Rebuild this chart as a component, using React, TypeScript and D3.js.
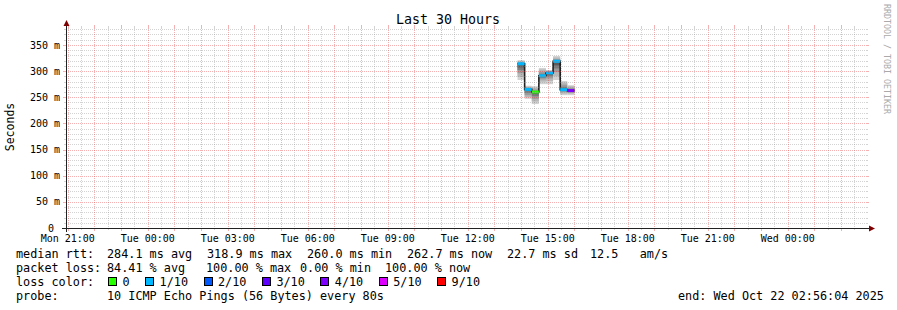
import React from "react";
import * as d3 from "d3";

// ---- data ----
const startTime = "2025-10-20T20:56:04Z";
const endTime = "2025-10-22T02:56:04Z";
const stepSeconds = 960;
const colStarts = [
  "2025-10-21T13:52:00Z", "2025-10-21T14:08:00Z", "2025-10-21T14:24:00Z", "2025-10-21T14:40:00Z",
  "2025-10-21T14:56:00Z", "2025-10-21T15:12:00Z", "2025-10-21T15:28:00Z", "2025-10-21T15:44:00Z",
];
const medians = [314, 265, 260, 291, 296.5, 318.9, 264.5, 262.7];
const losses = [1, 1, 0, 1, 1, 1, 1, 4];
const pings = [
  [283, 289, 296, 302, 307, 311, 315, 317, 319, 321],
  [247, 250, 254, 258, 262, 264, 266, 268, 270, 272],
  [237, 242, 247, 252, 256, 259, 262, 265, 268, 271],
  [275, 280, 284, 287, 289, 292, 295, 299, 303, 306],
  [275, 281, 286, 290, 293, 296, 298, 300, 301, 302],
  [283, 290, 298, 305, 311, 316, 320, 323, 326, 329],
  [254, 257, 260, 262, 263, 266, 270, 274, 278, 281],
  [254, 257, 259, 261, 262, 264, 266, 268, 271, 273],
];
const yMax = 382.4;
const yMajorTicks = [0, 50, 100, 150, 200, 250, 300, 350];
const yTickLabels = ["0", "50 m", "100 m", "150 m", "200 m", "250 m", "300 m", "350 m"];
const xTickLabels = ["Mon 21:00", "Tue 00:00", "Tue 03:00", "Tue 06:00", "Tue 09:00", "Tue 12:00", "Tue 15:00", "Tue 18:00", "Tue 21:00", "Wed 00:00"];
const lossLabels = ["0", "1/10", "2/10", "3/10", "4/10", "5/10", "9/10"];
const lossLevels = [0, 1, 2, 3, 4, 5, 9];
const lossColors = ["#26ff00", "#00b8ff", "#0059ff", "#5e00ff", "#7e00ff", "#dd00ff", "#ff0000"];
const smokeShades = ["#d2d2d2", "#b8b8b8", "#9c9c9c", "#7c7c7c", "#5c5c5c"];
const legendRtt = ["median rtt:", "284.1 ms avg", "318.9 ms max", "260.0 ms min", "262.7 ms now", "22.7 ms sd", "12.5   am/s"];
const legendLoss = ["packet loss:", "84.41 % avg", "100.00 % max", "0.00 % min", "100.00 % now"];
const legendLossTitle = "loss color:";
const legendProbe = ["probe:", "10 ICMP Echo Pings (56 Bytes) every 80s"];
const endText = "end: Wed Oct 22 02:56:04 2025";
const titleText = "Last 30 Hours";
const yAxisTitle = "Seconds";
const watermark = "RRDTOOL / TOBI OETIKER";

// ---- layout ----
const W = 897, H = 310;
const L = 66, R = 866, T = 28, B = 228;
const MONO = "'DejaVu Sans Mono', monospace";
const GRID = "rgba(140,140,140,0.38)";
const MGRID = "rgba(230,60,60,0.4)";
const AXIS = "#222";
const ARROW = "#7f0000";
const CW = 7.1;
const rttX = [16, 107, 207, 307, 407, 507, 590];
const lossX = [16, 107, 206, 300, 385];
const probeX = [16, 107];

function colorFor(loss: number) {
  let idx = 0;
  for (let i = 0; i < lossLevels.length; i++) if (loss >= lossLevels[i]) idx = i;
  return lossColors[idx];
}

function MonoText({ x0, yb, str, size }: { x0: number; yb: number; str: string; size: number }) {
  const tokens: { i: number; t: string }[] = [];
  const re = /\S+/g;
  let m: RegExpExecArray | null;
  while ((m = re.exec(str))) tokens.push({ i: m.index, t: m[0] });
  return (
    <>
      {tokens.map((tk, k) => (
        <text key={k} x={x0 + tk.i * CW} y={yb} fontSize={size} fill="#000">{tk.t}</text>
      ))}
    </>
  );
}

export default function App() {
  const x = d3.scaleUtc().domain([new Date(startTime), new Date(endTime)]).range([L, R]);
  const y = d3.scaleLinear().domain([0, yMax]).range([B, T]);
  const s = new Date(startTime), e = new Date(endTime);
  const minorX = d3.utcMinute.every(30)!.range(s, e).filter((d) => d.getUTCMinutes() !== 0);
  const majorX = d3.utcHour.range(s, e);
  const labelX = d3.utcHour.every(3)!.range(s, e);
  const minorY = d3.range(10, yMax, 10).filter((v) => v % 50 !== 0);
  const snap = (v: number) => Math.round(v) + 0.5;

  const cols = colStarts.map((c, i) => {
    const t0 = new Date(c);
    const t1 = new Date(t0.getTime() + stepSeconds * 1000);
    return { x0: x(t0), x1: x(t1), med: medians[i], loss: losses[i], p: pings[i] };
  });
  const medPts: [number, number][] = [];
  cols.forEach((c) => { medPts.push([c.x0, y(c.med)]); medPts.push([c.x1, y(c.med)]); });
  const medLine = d3.line()(medPts) || "";
  const half = 5;

  let lx = 108;
  const lossItems = lossLabels.map((lab, i) => {
    const item = { bx: lx, tx: lx + 14.5, lab, col: lossColors[i] };
    lx = item.tx + lab.length * CW + 15.5;
    return item;
  });

  return (
    <svg width={W} height={H} style={{ position: "absolute", left: 0, top: 0, background: "#fff" }} fontFamily={MONO}>
      <rect x={0} y={0} width={W} height={H} fill="#fff" />
      {cols.map((c, i) => (
        <g key={"s" + i}>
          {d3.range(half).map((k) => {
            const lo = c.p[k], hi = c.p[c.p.length - 1 - k];
            return (
              <rect key={k} x={c.x0} width={c.x1 - c.x0} y={y(hi)} height={y(lo) - y(hi)} fill={smokeShades[k]} />
            );
          })}
        </g>
      ))}
      <path d={medLine} fill="none" stroke="#202020" strokeWidth={1.6} />
      {cols.map((c, i) => (
        <rect key={"m" + i} x={c.x0} width={c.x1 - c.x0} y={y(c.med) - 1.5} height={3} fill={colorFor(c.loss)} />
      ))}
      {minorY.map((v) => (
        <g key={"my" + v}>
          <line x1={L} x2={R} y1={snap(y(v))} y2={snap(y(v))} stroke={GRID} strokeDasharray="1,1" />
          <line x1={L - 2} x2={L} y1={snap(y(v))} y2={snap(y(v))} stroke={GRID} />
          <line x1={R} x2={R + 2} y1={snap(y(v))} y2={snap(y(v))} stroke={GRID} />
        </g>
      ))}
      {minorX.map((d) => (
        <g key={"mx" + d.getTime()}>
          <line y1={T} y2={B} x1={snap(x(d))} x2={snap(x(d))} stroke={GRID} strokeDasharray="1,1" />
          <line y1={B} y2={B + 2} x1={snap(x(d))} x2={snap(x(d))} stroke={GRID} />
          <line y1={T - 2} y2={T} x1={snap(x(d))} x2={snap(x(d))} stroke={GRID} />
        </g>
      ))}
      {yMajorTicks.filter((v) => v > 0).map((v) => (
        <g key={"My" + v}>
          <line x1={L} x2={R} y1={snap(y(v))} y2={snap(y(v))} stroke={MGRID} strokeDasharray="1,1" />
          <line x1={L - 3} x2={L} y1={snap(y(v))} y2={snap(y(v))} stroke={MGRID} />
          <line x1={R} x2={R + 3} y1={snap(y(v))} y2={snap(y(v))} stroke={MGRID} />
        </g>
      ))}
      {majorX.map((d) => (
        <g key={"Mx" + d.getTime()}>
          <line y1={T} y2={B} x1={snap(x(d))} x2={snap(x(d))} stroke={MGRID} strokeDasharray="1,1" />
          <line y1={B} y2={B + 3} x1={snap(x(d))} x2={snap(x(d))} stroke={MGRID} />
          <line y1={T - 3} y2={T} x1={snap(x(d))} x2={snap(x(d))} stroke={MGRID} />
        </g>
      ))}
      <line x1={L - 4} x2={R + 4} y1={B + 0.5} y2={B + 0.5} stroke={AXIS} />
      <line x1={L + 0.5} x2={L + 0.5} y1={B + 4} y2={T - 4} stroke={AXIS} />
      <path d={`M${L - 2.5},${T - 2} L${L + 3.5},${T - 2} L${L + 0.5},${T - 8} Z`} fill={ARROW} />
      <path d={`M${R + 3},${B - 2.5} L${R + 3},${B + 3.5} L${R + 9},${B + 0.5} Z`} fill={ARROW} />
      {yMajorTicks.map((v, i) => (
        <text key={"yl" + v} x={yTickLabels[i].includes(" ") ? 60 : 54} y={y(v) + 3.6} fontSize={10} textAnchor="end" fill="#000">
          {yTickLabels[i]}
        </text>
      ))}
      {labelX.map((d, i) => (
        <text key={"xl" + i} x={x(d)} y={242} fontSize={10} textAnchor="middle" fill="#000">
          {xTickLabels[i]}
        </text>
      ))}
      <text x={448} y={24} fontSize={13.3} textAnchor="middle" fill="#000">{titleText}</text>
      <text transform={`translate(14,127) rotate(-90)`} fontSize={11.5} textAnchor="middle" fill="#000">{yAxisTitle}</text>
      <text transform={`translate(884,4) rotate(90)`} fontSize={8.3} fill="#aaa">{watermark}</text>
      {legendRtt.map((t, i) => <MonoText key={"r" + i} x0={rttX[i]} yb={258} str={t} size={11.8} />)}
      {legendLoss.map((t, i) => <MonoText key={"l" + i} x0={lossX[i]} yb={272} str={t} size={11.8} />)}
      <MonoText x0={16} yb={286} str={legendLossTitle} size={11.8} />
      {legendProbe.map((t, i) => <MonoText key={"p" + i} x0={probeX[i]} yb={300} str={t} size={11.8} />)}
      <MonoText x0={678} yb={300} str={endText} size={11.8} />
      {lossItems.map((it) => (
        <g key={it.lab}>
          <rect x={Math.round(it.bx) + 0.5} y={277.5} width={8} height={8} fill={it.col} stroke="#000" />
          <text x={it.tx} y={286} fontSize={11.8} fill="#000">{it.lab}</text>
        </g>
      ))}
    </svg>
  );
}
